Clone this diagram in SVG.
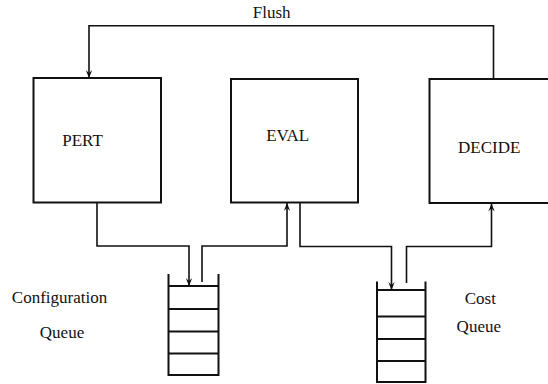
<svg xmlns="http://www.w3.org/2000/svg" width="548" height="384" viewBox="0 0 548 384">
<defs>
<style>
.box{fill:none;stroke:#111;stroke-width:2}
.conn{fill:none;stroke:#111;stroke-width:1.6}
.q{fill:none;stroke:#111;stroke-width:2}
.t{font-family:"Liberation Serif","DejaVu Serif",serif;font-size:17px;fill:#111;text-anchor:middle}
</style>
<marker id="arr" markerWidth="10" markerHeight="10" refX="0" refY="0" markerUnits="userSpaceOnUse" orient="auto" overflow="visible">
<path d="M0,0 L-8,-3.2 L-5,0 L-8,3.2 Z" fill="#111"/>
</marker>
</defs>
<rect width="548" height="384" fill="#fff"/>
<g id="pert"><rect class="box" x="33.5" y="78" width="127.5" height="124.5"/><text class="t" x="82.5" y="145.5">PERT</text></g>
<g id="eval"><rect class="box" x="231" y="79" width="127" height="123.5"/><text class="t" x="287.7" y="140.5">EVAL</text></g>
<g id="decide"><rect class="box" x="429.5" y="79" width="130" height="124"/><text class="t" x="489.2" y="152.5">DECIDE</text></g>
<g id="config-queue">
<path class="q" d="M168.5 274 V375 H218.5 V274 M168.5 286 H218.5 M168.5 309 H218.5 M168.5 331.5 H218.5 M168.5 353.5 H218.5"/>
<text class="t" x="59.5" y="303.3">Configuration</text>
<text class="t" x="62" y="338.3">Queue</text>
</g>
<g id="cost-queue">
<path class="q" d="M377 281.5 V382 H425.5 V281.5 M377 290 H425.5 M377 316.5 H425.5 M377 339 H425.5 M377 361 H425.5"/>
<text class="t" x="480.3" y="304">Cost</text>
<text class="t" x="478.8" y="331.7">Queue</text>
</g>
<g id="connectors">
<path class="conn" d="M493.5 79 V25.7 H89 V78" marker-end="url(#arr)"/>
<text class="t" x="271.7" y="18.3">Flush</text>
<path class="conn" d="M97 202.5 V246 H189 V286" marker-end="url(#arr)"/>
<path class="conn" d="M202 282 V246 H287 V203" marker-end="url(#arr)"/>
<path class="conn" d="M300 202.5 V246.5 H391.5 V290" marker-end="url(#arr)"/>
<path class="conn" d="M406.5 283 V246.5 H491.5 V203.5" marker-end="url(#arr)"/>
</g>
</svg>
